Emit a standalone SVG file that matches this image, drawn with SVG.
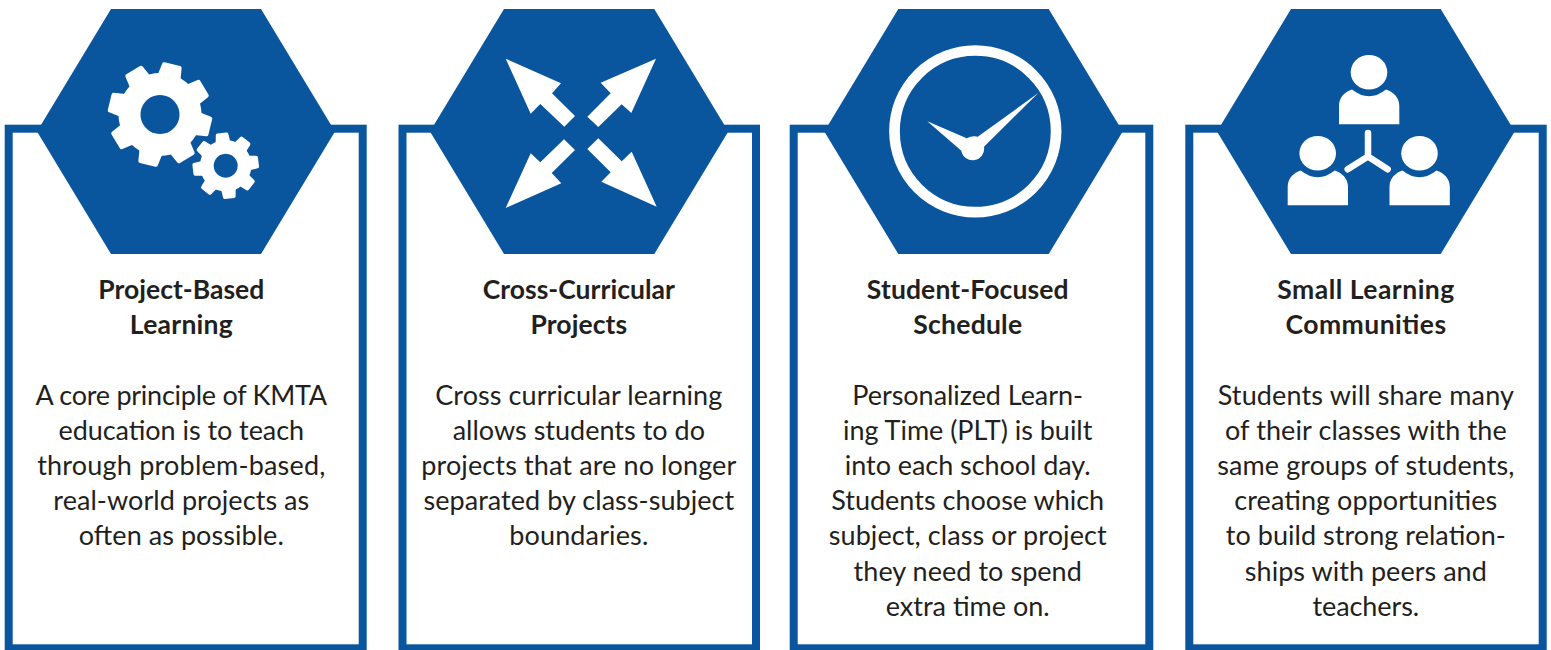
<svg xmlns="http://www.w3.org/2000/svg" xmlns:xlink="http://www.w3.org/1999/xlink" width="1551" height="650" viewBox="0 0 1551 650">
<style>
.card{fill:#fff;stroke:#09569f;stroke-width:8}
.hex{fill:#09569f}
.w{fill:#fff}
.h{font:700 26.500px Lato,"Liberation Sans",sans-serif;text-anchor:middle;fill:#231f20}
.b{font:400 27px Lato,"Liberation Sans",sans-serif;text-anchor:middle;fill:#231f20}
</style>
<defs>
<path id="tb" d="M-12-36L-10-50Q-9.800-51.800-8-51.800L8-51.800Q9.800-51.800 10-50L12-36Z"/>
<path id="ts" d="M-7.500-22L-6.300-31.500Q-6.100-33-4.500-33L4.500-33Q6.100-33 6.300-31.500L7.500-22Z"/>
<g id="teeth-big"><use xlink:href="#tb" href="#tb" transform="rotate(0)"/><use xlink:href="#tb" href="#tb" transform="rotate(45)"/><use xlink:href="#tb" href="#tb" transform="rotate(90)"/><use xlink:href="#tb" href="#tb" transform="rotate(135)"/><use xlink:href="#tb" href="#tb" transform="rotate(180)"/><use xlink:href="#tb" href="#tb" transform="rotate(225)"/><use xlink:href="#tb" href="#tb" transform="rotate(270)"/><use xlink:href="#tb" href="#tb" transform="rotate(315)"/></g>
<g id="teeth-small"><use xlink:href="#ts" href="#ts" transform="rotate(0)"/><use xlink:href="#ts" href="#ts" transform="rotate(45)"/><use xlink:href="#ts" href="#ts" transform="rotate(90)"/><use xlink:href="#ts" href="#ts" transform="rotate(135)"/><use xlink:href="#ts" href="#ts" transform="rotate(180)"/><use xlink:href="#ts" href="#ts" transform="rotate(225)"/><use xlink:href="#ts" href="#ts" transform="rotate(270)"/><use xlink:href="#ts" href="#ts" transform="rotate(315)"/></g>
<g id="person"><ellipse cx="1369" cy="72.300" rx="18.300" ry="17.300"/><path d="M1339 124.300V106C1339 97 1345 92 1352 89.500Q1369 103 1386 89.500C1393 92 1399.300 97 1399.300 106V124.300Z"/></g>
</defs>
<rect width="1551" height="650" fill="#fff"/>
<g id="node1">
<rect class="card" x="8.700" y="128.700" width="354" height="519.600"/>
<polygon class="hex" points="111,9 261,9 335,131.500 261,254 111,254 37,131.500"/>
<g class="w">
<use xlink:href="#teeth-big" href="#teeth-big" transform="translate(160 114.500) rotate(13.800)"/>
<path fill-rule="evenodd" d="M160 73a41.500 41.500 0 1 0 .01 0zM160 95a19.500 19.500 0 1 1-.01 0z"/>
<use xlink:href="#teeth-small" href="#teeth-small" transform="translate(225.700 165.700) rotate(-6.700)"/>
<path fill-rule="evenodd" d="M225.700 140a25.700 25.700 0 1 0 .01 0zM225.700 153.700a12 12 0 1 1-.01 0z"/>
</g>
<g>
<text class="h" x="181.300" y="298.500" textLength="166">Project-Based</text>
<text class="h" x="181.300" y="333.500" textLength="103">Learning</text>
<text class="b" x="181.300" y="404.500" textLength="291.700">A core principle of KMTA</text>
<text class="b" x="181.300" y="439.500" textLength="245.700">education is to teach</text>
<text class="b" x="181.300" y="474.500" textLength="288.300">through problem-based,</text>
<text class="b" x="181.300" y="509.500" textLength="256">real-world projects as</text>
<text class="b" x="181.300" y="544.500" textLength="205">often as possible.</text>
</g>
</g>
<g id="node2">
<rect class="card" x="402.500" y="128.700" width="353.500" height="519.600"/>
<polygon class="hex" points="504,9 654.300,9 728.300,131.500 654.300,254 504,254 430,131.500"/>
<g class="w">
<polygon points="505.700,58.700 561,83.300 552,93.300 575,116 564.300,126.700 540.300,104 530.700,113.700"/>
<polygon points="656,58.700 600.700,82.700 610.700,93.300 587.300,116.700 598.300,127 621.700,104.300 631.300,113"/>
<polygon points="505.700,208 561.300,183.300 551.700,173 575,150 564,139.300 540.300,162.300 530.700,153.300"/>
<polygon points="656.700,206.700 601.300,181.700 610.700,172.300 587.300,149 598.300,138.300 621.700,161.300 631.700,151.700"/>
</g>
<g>
<text class="h" x="578.800" y="298.500" textLength="192.300">Cross-Curricular</text>
<text class="h" x="578.800" y="333.500" textLength="96.700">Projects</text>
<text class="b" x="578.800" y="404.500" textLength="287">Cross curricular learning</text>
<text class="b" x="578.800" y="439.500" textLength="252.300">allows students to do</text>
<text class="b" x="578.800" y="474.500" textLength="315">projects that are no longer</text>
<text class="b" x="578.800" y="509.500" textLength="310.700">separated by class-subject</text>
<text class="b" x="578.800" y="544.500" textLength="139">boundaries.</text>
</g>
</g>
<g id="node3">
<rect class="card" x="793.700" y="128.700" width="355.600" height="519.600"/>
<polygon class="hex" points="898.300,9 1048.700,9 1122.700,131.500 1048.700,254 898.300,254 824.300,131.500"/>
<circle cx="975.300" cy="131.300" r="80.800" fill="none" stroke="#fff" stroke-width="10.700"/>
<path class="w" d="M927.300 121.300L966.700 138.300Q972 135.500 977.700 136.700L1038.300 93L984 146.700A11.400 11.400 0 1 1 961.300 150.700Z"/>
<g>
<text class="h" x="967.700" y="298.500" textLength="201.700">Student-Focused</text>
<text class="h" x="967.700" y="333.500" textLength="108.700">Schedule</text>
<text class="b" x="967.700" y="404.500" textLength="230.700">Personalized Learn-</text>
<text class="b" x="967.700" y="439.500" textLength="249.300">ing Time (PLT) is built</text>
<text class="b" x="967.700" y="474.500" textLength="245.700">into each school day.</text>
<text class="b" x="967.700" y="509.500" textLength="273">Students choose which</text>
<text class="b" x="967.700" y="544.500" textLength="278">subject, class or project</text>
<text class="b" x="967.700" y="580.500" textLength="228.300">they need to spend</text>
<text class="b" x="967.700" y="615.500" textLength="164">extra time on.</text>
</g>
</g>
<g id="node4">
<rect class="card" x="1189.300" y="128.700" width="353.400" height="519.600"/>
<polygon class="hex" points="1291,9 1440.700,9 1514.700,131.500 1440.700,254 1291,254 1217,131.500"/>
<g class="w">
<use xlink:href="#person" href="#person"/>
<use xlink:href="#person" href="#person" x="-51.300" y="81"/>
<use xlink:href="#person" href="#person" x="50.500" y="81"/>
<path d="M1368 133V156.500M1368 156.500L1347.700 169.300M1368 156.500L1387.700 169.300" fill="none" stroke="#fff" stroke-width="6.500" stroke-linecap="round"/>
</g>
<g>
<text class="h" x="1365.800" y="298.500" textLength="177">Small Learning</text>
<text class="h" x="1365.800" y="333.500" textLength="160.700">Communities</text>
<text class="b" x="1365.800" y="404.500" textLength="296.300">Students will share many</text>
<text class="b" x="1365.800" y="439.500" textLength="281.700">of their classes with the</text>
<text class="b" x="1365.800" y="474.500" textLength="297.300">same groups of students,</text>
<text class="b" x="1365.800" y="509.500" textLength="263">creating opportunities</text>
<text class="b" x="1365.800" y="544.500" textLength="280">to build strong relation-</text>
<text class="b" x="1365.800" y="580.500" textLength="242">ships with peers and</text>
<text class="b" x="1365.800" y="615.500" textLength="106.700">teachers.</text>
</g>
</g>
</svg>
